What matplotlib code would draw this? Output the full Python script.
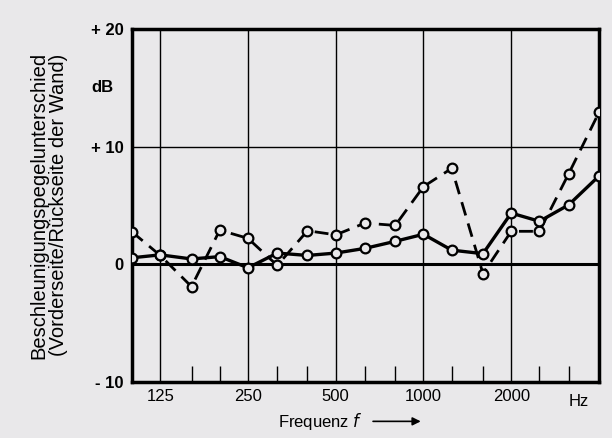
import matplotlib.pyplot as plt
from matplotlib.patches import FancyArrowPatch
from matplotlib.transforms import blended_transform_factory

plt.rcParams['font.family'] = ['Liberation Sans', 'DejaVu Sans']

# third-octave band centre frequencies (Hz)
freq = [100, 125, 160, 200, 250, 315, 400, 500, 630, 800,
        1000, 1250, 1600, 2000, 2500, 3150, 4000]
# level difference, solid curve (dB)
solid = [0.55, 0.8, 0.45, 0.65, -0.3, 0.95, 0.75, 0.95, 1.35, 1.95,
         2.55, 1.2, 0.9, 4.35, 3.65, 5.05, 7.5]
# level difference, dashed curve (dB)
dashed = [2.75, 0.75, -1.9, 2.9, 2.2, -0.1, 2.85, 2.5, 3.5, 3.3,
          6.6, 8.15, -0.8, 2.8, 2.8, 7.7, 12.9]

major_f = [125, 250, 500, 1000, 2000]
major_lab = ['125', '250', '500', '1000', '2000']
minor_f = [160, 200, 315, 400, 630, 800, 1250, 1600, 2500, 3150]
ytick_vals = [-10, 0, 10, 20]
ytick_lab = ['- 10', '0', '+ 10', '+ 20']

bg = '#e9e8ea'

def main():
    fig = plt.figure(figsize=(6.12, 4.38), dpi=100)
    fig.patch.set_facecolor(bg)
    ax = fig.add_axes([0.2157, 0.128, 0.763, 0.806])
    ax.set_facecolor(bg)

    ax.set_xscale('log')
    ax.set_xlim(100, 4000)
    ax.set_ylim(-10, 20)

    # grid
    for f in major_f:
        ax.axvline(f, color='black', lw=1.0, zorder=1)
    ax.axhline(10, color='black', lw=1.0, zorder=1)
    ax.axhline(0, color='black', lw=2.2, zorder=1)

    ax.plot(freq, dashed, color='black', lw=2.0, ls=(0, (5, 3)),
            marker='o', ms=7, mfc=bg, mec='black', mew=1.6, zorder=3)
    ax.plot(freq, solid, color='black', lw=2.4, ls='-',
            marker='o', ms=7, mfc=bg, mec='black', mew=1.6, zorder=4)

    for s in ax.spines.values():
        s.set_linewidth(2.5)

    ax.set_xticks(major_f)
    ax.set_xticklabels(major_lab, fontsize=12)
    ax.set_xticks(minor_f, minor=True)
    ax.set_xticklabels([], minor=True)
    ax.tick_params(axis='x', which='major', length=0, pad=5)
    ax.tick_params(axis='x', which='minor', direction='in', length=11.5, width=1.0)

    ax.set_yticks(ytick_vals)
    ax.set_yticklabels(ytick_lab, fontsize=12, fontweight='bold')
    ax.tick_params(axis='y', length=0, pad=6)

    trans = blended_transform_factory(ax.transAxes, ax.transData)
    ax.text(-0.04, 15, 'dB', transform=trans,
            ha='right', va='center', fontsize=12, fontweight='bold')
    ax.text(3420, -11.0, 'Hz', ha='center', va='top', fontsize=12)

    fig.text(0.079, 0.532, 'Beschleunigungspegelunterschied\n(Vorderseite/Rückseite der Wand)',
             rotation=90, ha='center', va='center', fontsize=14.5,
             linespacing=1.05, multialignment='center')

    fig.text(0.593, 0.038, 'Frequenz $\\it{f}$', ha='right', va='center', fontsize=12)
    fig.patches.append(FancyArrowPatch(
        (0.605, 0.038), (0.692, 0.038), transform=fig.transFigure,
        arrowstyle='-|>', mutation_scale=12, lw=1.2, color='black'))

    fig.savefig('out.png', dpi=100, facecolor=bg)

if __name__ == "__main__":
    main()
